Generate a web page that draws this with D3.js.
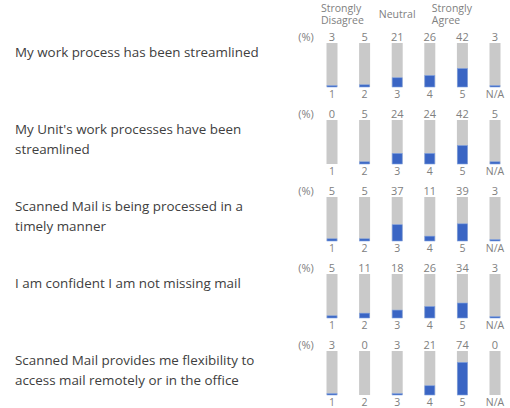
<!DOCTYPE html>
<html>
<head>
<meta charset="utf-8">
<script src="https://cdn.jsdelivr.net/npm/d3@7"></script>
<style>
  html, body { margin: 0; padding: 0; background: #fff; }
  svg { display: block; font-family: "Segoe UI", "Open Sans", "Noto Sans", sans-serif; }
</style>
</head>
<body>
<svg id="chart" width="510" height="408"></svg>
<script>
const categories = ["1", "2", "3", "4", "5", "N/A"];
const questions = [
  ["My work process has been streamlined"],
  ["My Unit's work processes have been", "streamlined"],
  ["Scanned Mail is being processed in a", "timely manner"],
  ["I am confident I am not missing mail"],
  ["Scanned Mail provides me flexibility to", "access mail remotely or in the office"]
];
const q1Values = [3, 5, 21, 26, 42, 3];
const q2Values = [0, 5, 24, 24, 42, 5];
const q3Values = [5, 5, 37, 11, 39, 3];
const q4Values = [5, 11, 18, 26, 34, 3];
const q5Values = [3, 0, 3, 21, 74, 0];
const seriesValues = [q1Values, q2Values, q3Values, q4Values, q5Values];
const headerLabels = [
  { cat: "1", lines: ["Strongly", "Disagree"], anchor: "start", dx: -11 },
  { cat: "3", lines: ["Neutral"], anchor: "middle", dx: 0 },
  { cat: "4", lines: ["Strongly", "Agree"], anchor: "start", dx: 2 }
];
const unitLabel = "(%)";

const svg = d3.select("#chart");
const x = d3.scalePoint().domain(categories).range([332, 495]);
const barW = 11;
const barH = 44;
const y = d3.scaleLinear().domain([0, 100]).range([barH, 0]);
const panelY = d3.scalePoint().domain(d3.range(questions.length)).range([43, 351]);

const grey = "#c9c9c9";
const blue = "#3a65c4";
const labelColor = "#808080";
const textColor = "#404040";

// header
headerLabels.forEach(h => {
  const t = svg.append("text")
    .attr("x", x(h.cat) + h.dx)
    .attr("text-anchor", h.anchor)
    .attr("fill", labelColor)
    .style("font-size", "10.5px");
  if (h.lines.length === 1) {
    t.append("tspan").attr("x", x(h.cat) + h.dx).attr("y", 18).text(h.lines[0]);
  } else {
    h.lines.forEach((l, i) => t.append("tspan").attr("x", x(h.cat) + h.dx).attr("y", 11.5 + i * 12.5).text(l));
  }
});

questions.forEach((lines, qi) => {
  const top = panelY(qi);
  const g = svg.append("g").attr("transform", `translate(0,${top})`);
  const vals = seriesValues[qi];

  // question text
  const qt = g.append("text").attr("fill", textColor).style("font-size", "13.4px");
  lines.forEach((l, i) => qt.append("tspan").attr("x", 15).attr("y", 14 + i * 19.5).text(l));

  // (%)
  g.append("text").attr("x", 306).attr("y", -2.5).attr("text-anchor", "middle")
    .attr("fill", labelColor).style("font-size", "11px").text(unitLabel);

  categories.forEach((c, ci) => {
    const cx = x(c);
    g.append("rect").attr("x", cx - barW / 2).attr("y", y(100)).attr("width", barW).attr("height", barH)
      .attr("fill", grey);
    const v = vals[ci];
    if (v > 0) {
      g.append("rect").attr("x", cx - barW / 2 + 0.5).attr("y", y(v)).attr("width", barW - 1)
        .attr("height", barH - y(v)).attr("fill", blue).attr("stroke", "#7fa0e0").attr("stroke-width", 0.6);
    }
    g.append("text").attr("x", cx).attr("y", -2.5).attr("text-anchor", "middle")
      .attr("fill", labelColor).style("font-size", "11px").text(v);
    g.append("text").attr("x", cx).attr("y", barH + 10.5).attr("text-anchor", "middle")
      .attr("fill", labelColor).style("font-size", "10.5px").text(c);
  });
});
</script>
</body>
</html>
